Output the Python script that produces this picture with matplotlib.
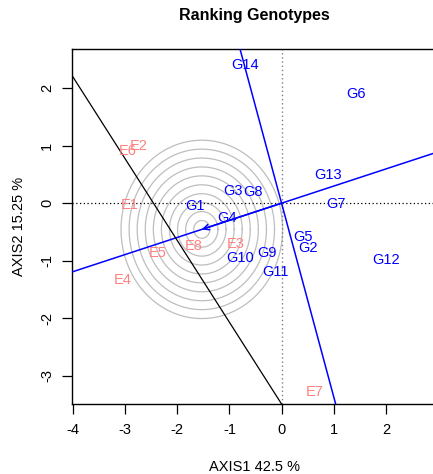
import numpy as np
import matplotlib
matplotlib.use('Agg')
import matplotlib.pyplot as plt

plt.rcParams['font.family'] = ['Liberation Sans', 'DejaVu Sans']
plt.rcParams['axes.unicode_minus'] = False

# genotype scores (AXIS1, AXIS2)
gen_names = ['G1', 'G2', 'G3', 'G4', 'G5', 'G6', 'G7', 'G8', 'G9', 'G10',
             'G11', 'G12', 'G13', 'G14']
gen_x = [-1.66, 0.51, -0.93, -1.05, 0.41, 1.42, 1.05, -0.54, -0.28, -0.80,
         -0.11, 2.01, 0.89, -0.70]
gen_y = [-0.05, -0.78, 0.21, -0.26, -0.59, 1.90, -0.02, 0.19, -0.87, -0.96,
         -1.19, -0.99, 0.49, 2.40]

# environment scores
env_names = ['E1', 'E2', 'E3', 'E4', 'E5', 'E6', 'E7', 'E8']
env_x = [-2.91, -2.75, -0.88, -3.05, -2.38, -2.95, 0.64, -1.69]
env_y = [-0.03, 1.00, -0.71, -1.33, -0.87, 0.915, -3.29, -0.74]

# average environment point (arrow tip / circle centre)
avg_env = [-1.53, -0.455]
n_circles = 10
circle_step = 0.155

# extra reference line
black_x = [-4.02, 0.0]
black_y = [2.22, -3.49]

xlim = (-4.02, 2.98)
ylim = (-3.49, 2.68)

fig = plt.figure(figsize=(4.33, 4.74), dpi=100)
ax = fig.add_axes([0.1663, 0.1477, 0.8427, 0.7489])

# concentric circles around the average environment
t = np.linspace(0, 2 * np.pi, 300)
for k in range(1, n_circles + 1):
    r = k * circle_step
    ax.plot(avg_env[0] + r * np.cos(t), avg_env[1] + r * np.sin(t),
            color='#BEBEBE', lw=0.9, zorder=1)

ax.axhline(0, color='black', lw=0.9, ls=(0, (1, 2)), zorder=2)
ax.axvline(0, color='grey', lw=1.0, ls=(0, (1, 2)), zorder=2)

# ATC abscissa and ordinate
slope = avg_env[1] / avg_env[0]
xx = np.array([xlim[0] - 1, xlim[1] + 1])
ax.plot(xx, slope * xx, color='blue', lw=1.1, zorder=3)
ax.plot(xx, -xx / slope, color='blue', lw=1.1, zorder=3)
ax.annotate('', xy=(avg_env[0], avg_env[1]), xytext=(0, 0),
            arrowprops=dict(arrowstyle='->', color='blue', lw=1.1,
                            mutation_scale=10, shrinkA=0, shrinkB=0),
            zorder=3)

ax.plot(black_x, black_y, color='black', lw=0.9, zorder=3)

for name, x, y in zip(gen_names, gen_x, gen_y):
    ax.text(x, y, name, color='blue', fontsize=10.5, ha='center',
            va='center', zorder=4)
for name, x, y in zip(env_names, env_x, env_y):
    ax.text(x, y, name, color='#FF8080', fontsize=10.5, ha='center',
            va='center', zorder=4)

ax.set_xlim(xlim)
ax.set_ylim(ylim)
ax.set_xticks([-4, -3, -2, -1, 0, 1, 2])
ax.set_yticks([-3, -2, -1, 0, 1, 2])
ax.set_yticklabels(['-3', '-2', '-1', '0', '1', '2'], rotation=90,
                   va='center')
ax.tick_params(length=7, width=0.9, labelsize=10.5, pad=6)
ax.tick_params(axis='x', pad=7)
for s in ax.spines.values():
    s.set_linewidth(1.0)

ax.set_xlabel('AXIS1 42.5 %', fontsize=10.5, labelpad=16)
ax.set_ylabel('AXIS2 15.25 %', fontsize=10.5, labelpad=10)
ax.set_title('Ranking Genotypes', fontsize=11.5, fontweight='bold', pad=21)

fig.savefig('out.png', dpi=100)
